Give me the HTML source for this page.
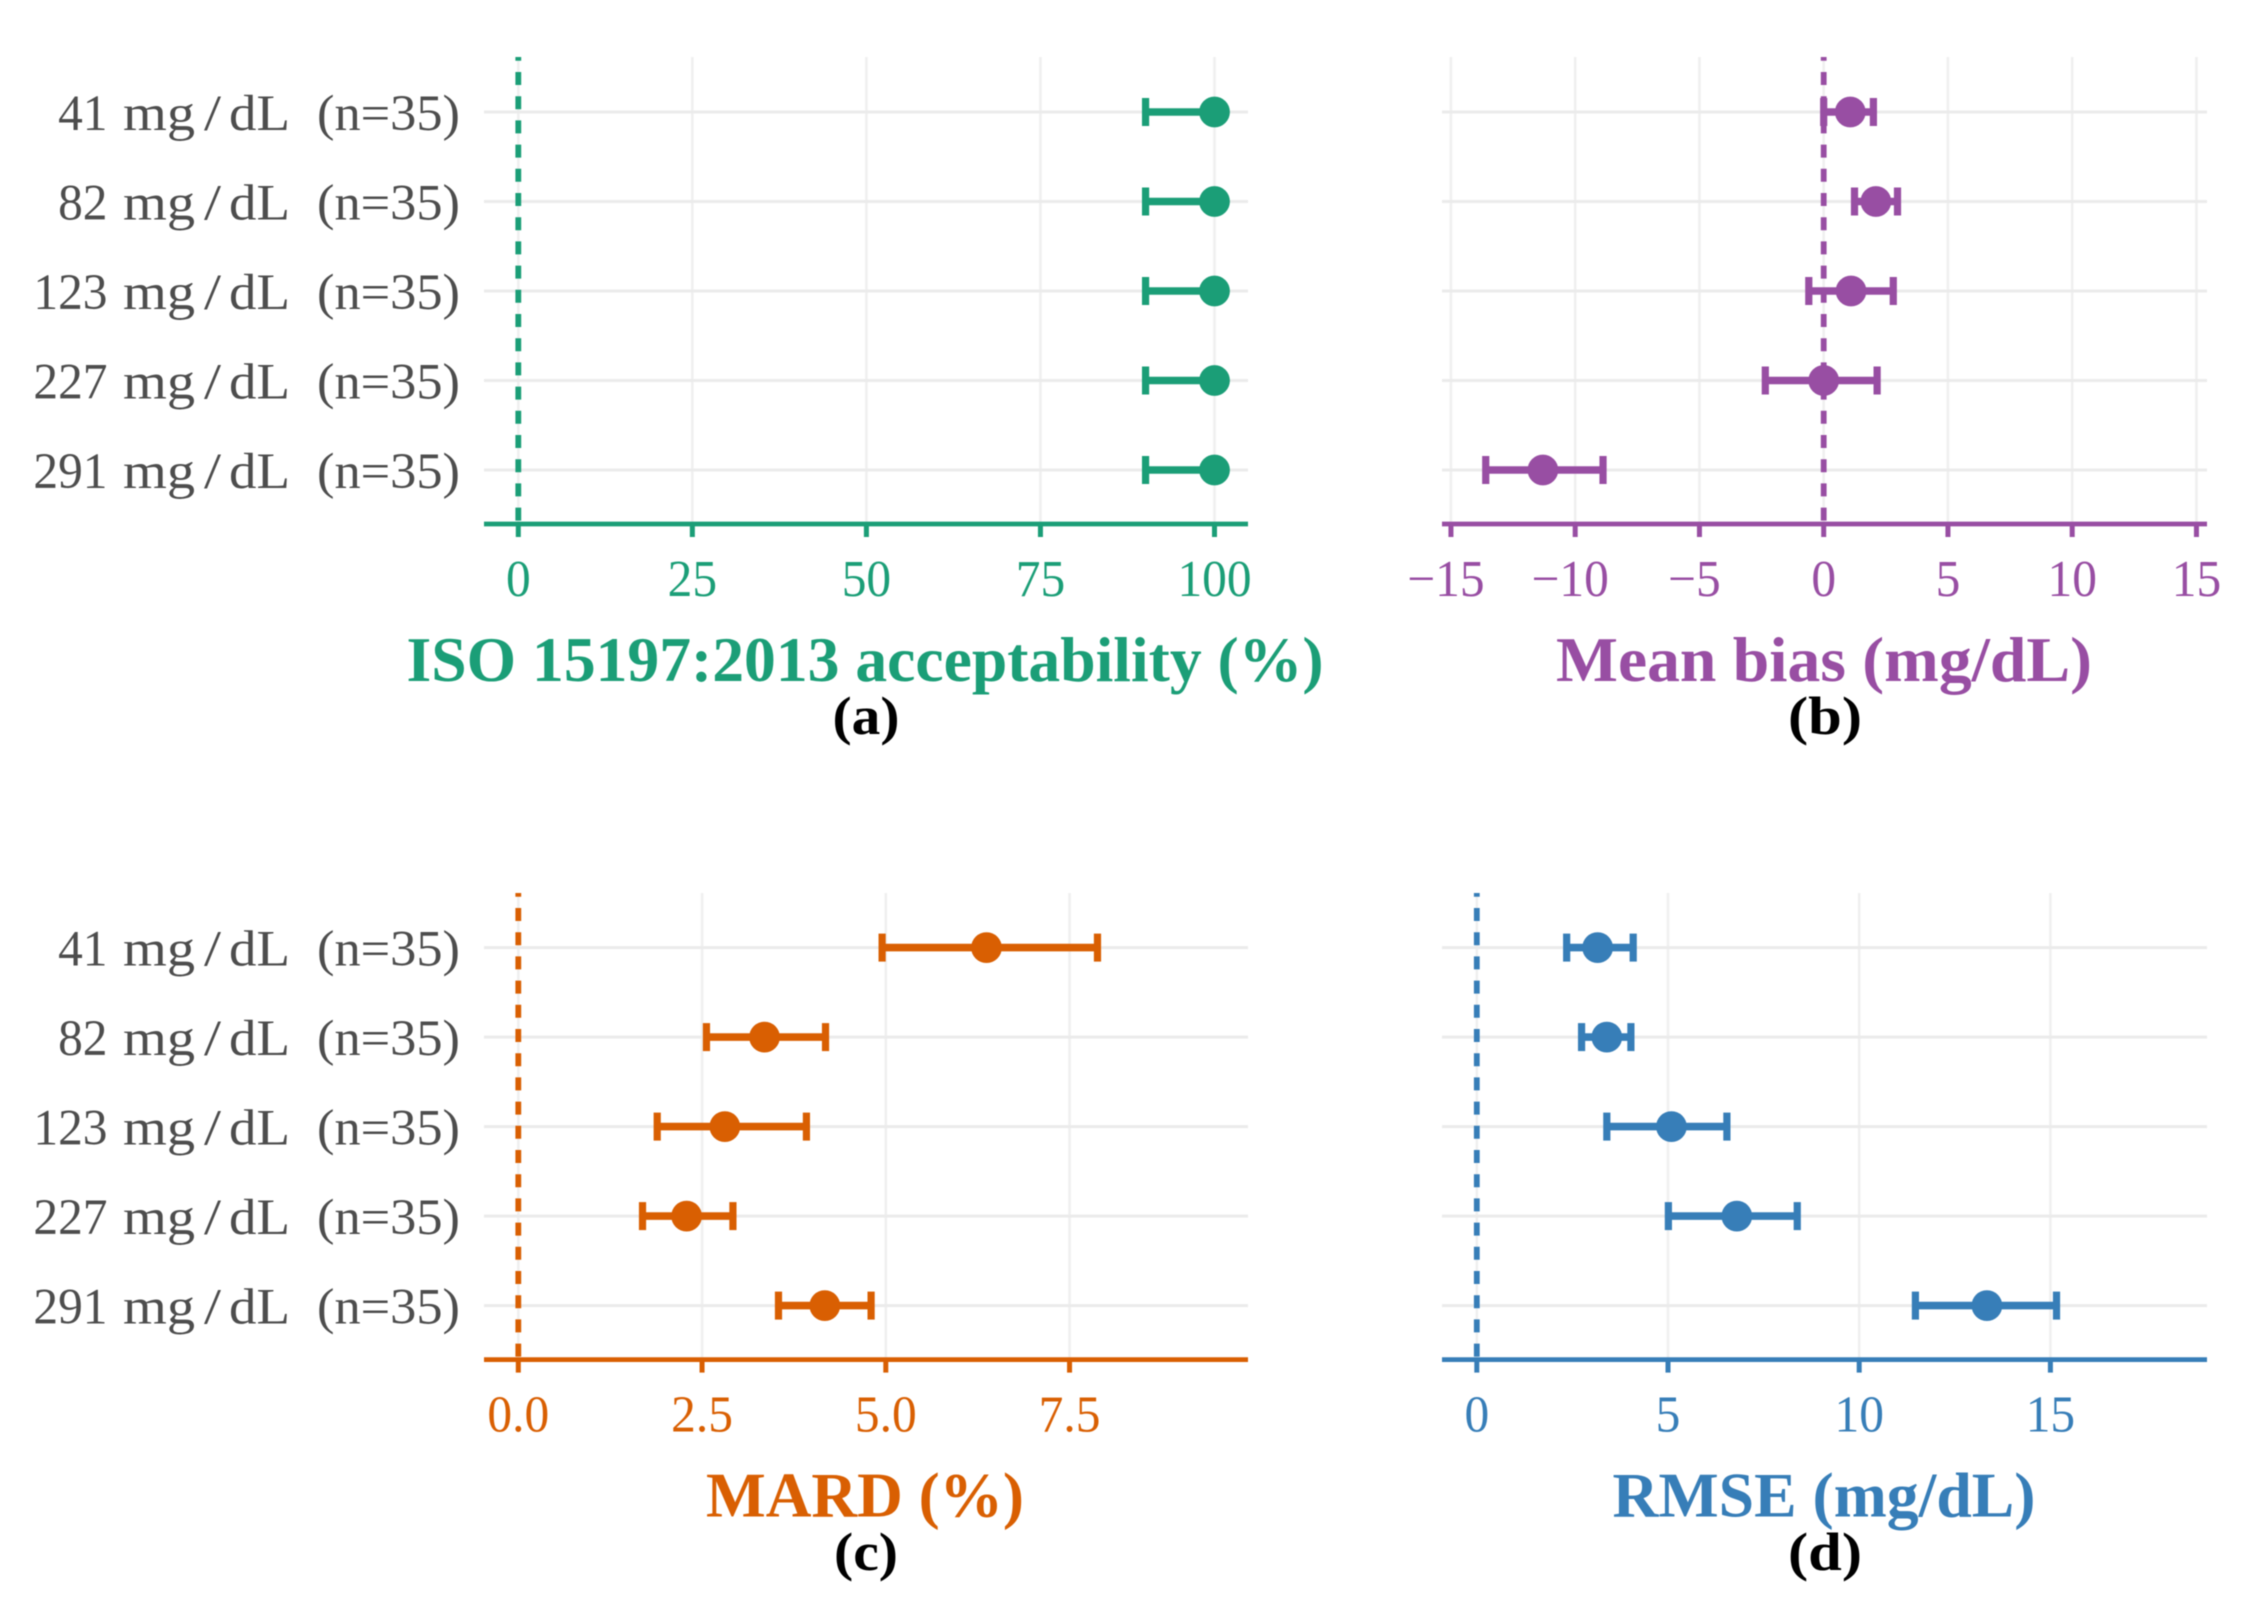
<!DOCTYPE html>
<html lang="en">
<head>
<meta charset="utf-8">
<title>Glucose meter accuracy forest plots</title>
<style>
  html, body { margin: 0; padding: 0; background: #ffffff; }
  #figure { display: block; width: 2266px; height: 1608px; filter: blur(0.6px); }
  text { font-family: "Liberation Serif", "DejaVu Serif", serif; white-space: pre; }
  .tick-label { font-size: 52px; }
  .row-label { font-size: 51px; fill: #4d4d4d; }
  .axis-title { font-size: 64px; font-weight: 700; text-anchor: middle; }
  .panel-tag { font-size: 54px; font-weight: 700; fill: #000000; text-anchor: middle; }
</style>
</head>
<body>
<svg id="figure" xmlns="http://www.w3.org/2000/svg" width="2266" height="1608" viewBox="0 0 2266 1608">
  <rect x="0" y="0" width="2266" height="1608" fill="#ffffff"></rect>
  <g id="panel-a"></g>
  <g id="panel-b"></g>
  <g id="panel-c"></g>
  <g id="panel-d"></g>

  <text class="axis-title" x="865" y="681" fill="#1b9e77" textLength="917" lengthAdjust="spacingAndGlyphs">ISO 15197:2013 acceptability (%)</text>
  <text class="panel-tag" x="866" y="734" textLength="67" lengthAdjust="spacingAndGlyphs">(a)</text>
  <text class="axis-title" x="1824" y="681" fill="#984ea3" textLength="536" lengthAdjust="spacingAndGlyphs">Mean bias (mg/dL)</text>
  <text class="panel-tag" x="1825" y="734" textLength="74" lengthAdjust="spacingAndGlyphs">(b)</text>
  <text class="axis-title" x="865" y="1516.5" fill="#d95f02" textLength="318" lengthAdjust="spacingAndGlyphs">MARD (%)</text>
  <text class="panel-tag" x="866" y="1570" textLength="64" lengthAdjust="spacingAndGlyphs">(c)</text>
  <text class="axis-title" x="1824" y="1516.5" fill="#377eb8" textLength="423" lengthAdjust="spacingAndGlyphs">RMSE (mg/dL)</text>
  <text class="panel-tag" x="1825" y="1570" textLength="74" lengthAdjust="spacingAndGlyphs">(d)</text>
</svg>

<script>
// ---- Data ----
const categories = ["41", "82", "123", "227", "291"];
const categoryUnit = "mg/dL";
const categoryCount = "(n=35)";

const acceptabilityValues = [100, 100, 100, 100, 100];
const acceptabilityLow = [90.1, 90.1, 90.1, 90.1, 90.1];
const acceptabilityHigh = [100, 100, 100, 100, 100];
const acceptabilityTicks = [0, 25, 50, 75, 100];
const acceptabilityTickLabels = ["0", "25", "50", "75", "100"];

const biasValues = [1.07, 2.1, 1.1, 0.0, -11.3];
const biasLow = [0.0, 1.24, -0.6, -2.35, -13.6];
const biasHigh = [2.0, 2.97, 2.8, 2.15, -8.88];
const biasTicks = [-15, -10, -5, 0, 5, 10, 15];
const biasTickLabels = ["\u221215", "\u221210", "\u22125", "0", "5", "10", "15"];

const mardValues = [6.37, 3.35, 2.81, 2.29, 4.17];
const mardLow = [4.95, 2.56, 1.89, 1.69, 3.54];
const mardHigh = [7.88, 4.18, 3.92, 2.92, 4.80];
const mardTicks = [0, 2.5, 5, 7.5];
const mardTickLabels = ["0.0", "2.5", "5.0", "7.5"];

const rmseValues = [3.16, 3.4, 5.09, 6.8, 13.34];
const rmseLow = [2.35, 2.74, 3.4, 5.01, 11.47];
const rmseHigh = [4.09, 4.03, 6.54, 8.38, 15.16];
const rmseTicks = [0, 5, 10, 15];
const rmseTickLabels = ["0", "5", "10", "15"];

// ---- Drawing ----
const SVG_NS = "http://www.w3.org/2000/svg";
const ROW_STEP = 89.5;

function shape(parent, tag, attrs) {
  const el = document.createElementNS(SVG_NS, tag);
  for (const key in attrs) el.setAttribute(key, attrs[key]);
  parent.appendChild(el);
  return el;
}

// Row label: the reference's Palatino-like face has a spaced slash and wide word gaps,
// so each word run gets its own start position and width.
function labelRun(parent, content, x, width, y) {
  const run = shape(parent, "tspan", { x: x, y: y, textLength: width, lengthAdjust: "spacingAndGlyphs" });
  run.textContent = content;
  return run;
}

function drawRowLabel(root, category, y) {
  const txt = shape(root, "text", { class: "row-label" });
  
  
  const numWidth = category.length * 24.7;
  const unitParts = categoryUnit.split("/");
  labelRun(txt, category, 107.5 - numWidth, numWidth, y);
  txt.appendChild(document.createTextNode(" "));
  labelRun(txt, unitParts[0], 123, 72, y);
  labelRun(txt, "/", 204, 17, y);
  labelRun(txt, unitParts[1], 229, 59, y);
  txt.appendChild(document.createTextNode(" "));
  labelRun(txt, categoryCount, 317, 143, y);
}

function drawPanel(id, cfg, values, low, high, ticks, tickLabels) {
  const root = document.getElementById(id);
  const xScale = v => cfg.originX + v * cfg.unitX;
  const yScale = i => cfg.firstRowY + i * ROW_STEP;

  // vertical gridlines
  ticks.forEach(t => {
    const el = shape(root, "line", { x1: xScale(t), x2: xScale(t), y1: cfg.topY, y2: cfg.axisY, stroke: "#f0f0f0", "stroke-width": 2.6 });
    
    
  });

  // horizontal gridlines and row labels
  categories.forEach((label, i) => {
    const grid = shape(root, "line", { x1: cfg.leftX, x2: cfg.rightX, y1: yScale(i), y2: yScale(i), stroke: "#ebebeb", "stroke-width": 3 });
    
    
    if (cfg.showRowLabels) drawRowLabel(root, label, yScale(i) + 18);
  });

  // zero reference line
  const zero = shape(root, "line", { x1: xScale(0), x2: xScale(0), y1: cfg.topY, y2: cfg.axisY, stroke: cfg.color, "stroke-width": 5.8, "stroke-dasharray": "13 11.2", "stroke-dashoffset": 9.2 });
  
  

  // x axis line, ticks and tick labels
  const axis = shape(root, "line", { x1: cfg.leftX, x2: cfg.rightX, y1: cfg.axisY, y2: cfg.axisY, stroke: cfg.color, "stroke-width": 4.8 });
  
  

  ticks.forEach((t, i) => {
    const mark = shape(root, "line", { x1: xScale(t), x2: xScale(t), y1: cfg.axisY, y2: cfg.axisY + 13, stroke: cfg.color, "stroke-width": 5 });
    
    
    const lab = shape(root, "text", { class: "tick-label", x: xScale(t) - (t < 0 ? 5 : 0), y: cfg.axisY + 72, fill: cfg.color, "text-anchor": "middle" });
    lab.textContent = tickLabels[i];
    
    
    lab.setAttribute('textLength', lab.getComputedTextLength() * 0.95);
    lab.setAttribute('lengthAdjust', 'spacingAndGlyphs');
  });

  // error bars and points
  values.forEach((v, i) => {
    const y = yScale(i);
    const bar = shape(root, "line", { x1: xScale(low[i]), x2: xScale(high[i]), y1: y, y2: y, stroke: cfg.color, "stroke-width": 7.6 });
    
    
    const capLow = shape(root, "line", { x1: xScale(low[i]), x2: xScale(low[i]), y1: y - 14, y2: y + 14, stroke: cfg.color, "stroke-width": 7.2 });
    
    
    const capHigh = shape(root, "line", { x1: xScale(high[i]), x2: xScale(high[i]), y1: y - 14, y2: y + 14, stroke: cfg.color, "stroke-width": 7.2 });
    
    
    if (high[i] === v) capHigh.setAttribute('stroke-opacity', '0');
    const dot = shape(root, "circle", { cx: xScale(v), cy: y, r: 15.4, fill: cfg.color });
    
    
  });
}

drawPanel("panel-a", { color: "#1b9e77", originX: 518.3, unitX: 6.962, leftX: 484, rightX: 1248, topY: 57, axisY: 524, firstRowY: 112, showRowLabels: true },
  acceptabilityValues, acceptabilityLow, acceptabilityHigh, acceptabilityTicks, acceptabilityTickLabels);
drawPanel("panel-b", { color: "#984ea3", originX: 1823.7, unitX: 24.85, leftX: 1442, rightX: 2207, topY: 57, axisY: 524, firstRowY: 112, showRowLabels: false },
  biasValues, biasLow, biasHigh, biasTicks, biasTickLabels);
drawPanel("panel-c", { color: "#d95f02", originX: 518.3, unitX: 73.5, leftX: 484, rightX: 1248, topY: 893, axisY: 1359.6, firstRowY: 947.6, showRowLabels: true },
  mardValues, mardLow, mardHigh, mardTicks, mardTickLabels);
drawPanel("panel-d", { color: "#377eb8", originX: 1476.8, unitX: 38.24, leftX: 1442, rightX: 2207, topY: 893, axisY: 1359.6, firstRowY: 947.6, showRowLabels: false },
  rmseValues, rmseLow, rmseHigh, rmseTicks, rmseTickLabels);
</script>
</body>
</html>
